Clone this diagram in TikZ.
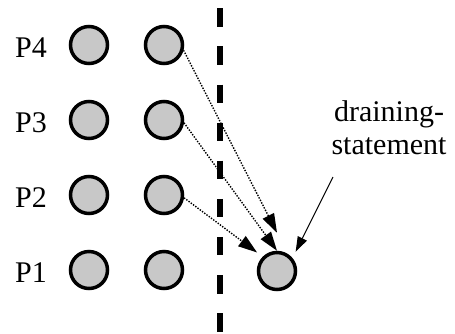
\documentclass[tikz,border=0pt]{standalone}
\usepackage{fontspec}
\setmainfont{Liberation Serif}
\usetikzlibrary{arrows.meta}
\definecolor{ballfill}{RGB}{200,200,200}
\begin{document}
\begin{tikzpicture}[x=1pt,y=-1pt,
  ball/.style={circle,draw=black,line width=3.5pt,fill=ballfill,minimum size=37pt,inner sep=0pt},
  plabel/.style={anchor=base east,inner sep=0pt,font=\fontsize{30}{34}\selectfont},
  flow/.style={line width=1.4pt,dash pattern=on 1.4pt off 1.4pt,
    -{Triangle[length=19pt,width=12.5pt]}},
  pointer/.style={line width=1pt,-{Triangle[length=15pt,width=10pt]}}]
\useasboundingbox (0,0) rectangle (455,333);

% process rows
\foreach \r/\y in {4/45,3/120,2/195,1/270}{
  \node[ball] (c\r1) at (89,\y) {};
  \node[ball] (c\r2) at (164,\y) {};
  \node[plabel] (p\r) at (47,\y+12) {P\r};
}

% barrier
\draw[line width=6pt,dash pattern=on 18.5pt off 19.6pt] (220,8.3) -- (220,333);

% draining statement
\node[ball] (drain) at (277,271) {};
\node[anchor=north,inner sep=0pt,align=center,font=\fontsize{30}{33}\selectfont]
  (lab) at (389,100) {draining-\\statement};
\coordinate (ls) at (333,177);
\coordinate (t4) at ([yshift=18pt]drain.north);

\draw[flow] (c42.-15) -- (t4);
\draw[flow] (c32.-8) -- (drain.north);
\draw[flow,shorten >=7pt] (c22.-8) -- (drain.135);
\draw[pointer,shorten >=7pt] (ls) -- (drain.40);
\end{tikzpicture}
\end{document}
